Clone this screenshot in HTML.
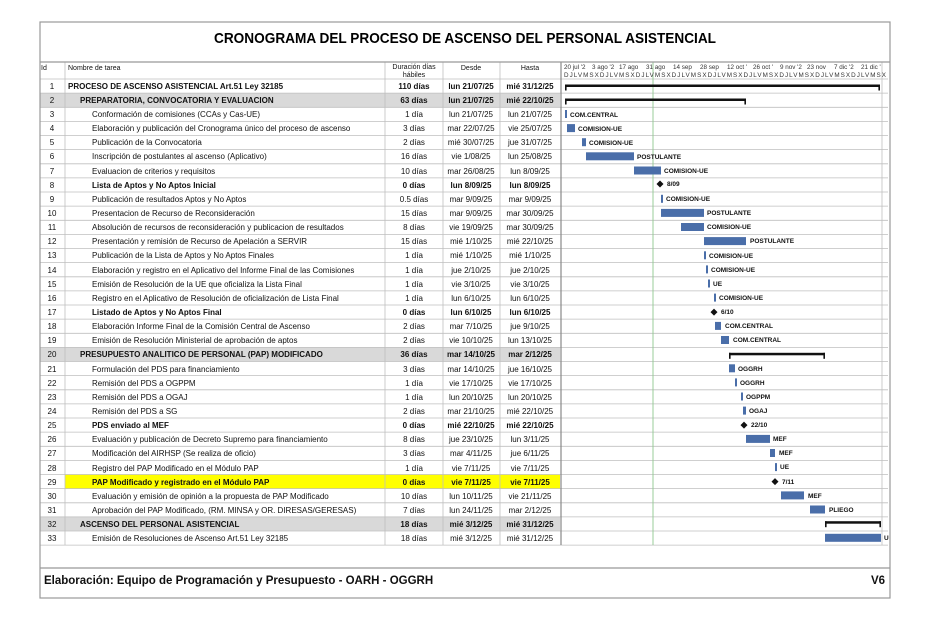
<!DOCTYPE html>
<html><head><meta charset="utf-8"><style>
html,body{margin:0;padding:0;background:#fff;}
svg{display:block;font-family:"Liberation Sans",sans-serif;}
.n{font-size:8px;fill:#111}
.b{font-weight:bold}
.c{text-anchor:middle}
.l{font-size:6.5px;font-weight:bold;fill:#111}
</style></head><body>
<svg width="930" height="620" viewBox="0 0 930 620">
<rect x="0" y="0" width="930" height="620" fill="#fff"/>
<!-- row backgrounds -->
<rect x="40" y="93.1" width="520" height="14.1" fill="#d9d9d9"/>
<rect x="40" y="347.4" width="520" height="14.1" fill="#d9d9d9"/>
<rect x="40" y="516.9" width="520" height="14.1" fill="#d9d9d9"/>
<rect x="65" y="474.5" width="495" height="14.1" fill="#ffff00"/>
<!-- horizontal row lines -->
<g stroke="#bfbfbf" stroke-width="0.8">
<line x1="40" x2="888" y1="79" y2="79"/>
<line x1="40" x2="888" y1="93.1" y2="93.1"/><line x1="40" x2="888" y1="107.3" y2="107.3"/>
<line x1="40" x2="888" y1="121.4" y2="121.4"/><line x1="40" x2="888" y1="135.5" y2="135.5"/>
<line x1="40" x2="888" y1="149.6" y2="149.6"/><line x1="40" x2="888" y1="163.8" y2="163.8"/>
<line x1="40" x2="888" y1="177.9" y2="177.9"/><line x1="40" x2="888" y1="192" y2="192"/>
<line x1="40" x2="888" y1="206.1" y2="206.1"/><line x1="40" x2="888" y1="220.3" y2="220.3"/>
<line x1="40" x2="888" y1="234.4" y2="234.4"/><line x1="40" x2="888" y1="248.5" y2="248.5"/>
<line x1="40" x2="888" y1="262.6" y2="262.6"/><line x1="40" x2="888" y1="276.8" y2="276.8"/>
<line x1="40" x2="888" y1="290.9" y2="290.9"/><line x1="40" x2="888" y1="305" y2="305"/>
<line x1="40" x2="888" y1="319.1" y2="319.1"/><line x1="40" x2="888" y1="333.3" y2="333.3"/>
<line x1="40" x2="888" y1="347.4" y2="347.4"/><line x1="40" x2="888" y1="361.5" y2="361.5"/>
<line x1="40" x2="888" y1="375.6" y2="375.6"/><line x1="40" x2="888" y1="389.8" y2="389.8"/>
<line x1="40" x2="888" y1="403.9" y2="403.9"/><line x1="40" x2="888" y1="418" y2="418"/>
<line x1="40" x2="888" y1="432.1" y2="432.1"/><line x1="40" x2="888" y1="446.3" y2="446.3"/>
<line x1="40" x2="888" y1="460.4" y2="460.4"/><line x1="40" x2="888" y1="474.5" y2="474.5"/>
<line x1="40" x2="888" y1="488.6" y2="488.6"/><line x1="40" x2="888" y1="502.8" y2="502.8"/>
<line x1="40" x2="888" y1="516.9" y2="516.9"/><line x1="40" x2="888" y1="531" y2="531"/>
<line x1="40" x2="888" y1="545.1" y2="545.1"/>
</g>
<!-- column lines -->
<g stroke="#bfbfbf" stroke-width="0.8">
<line x1="65" x2="65" y1="62" y2="545"/>
<line x1="385" x2="385" y1="62" y2="545"/>
<line x1="443" x2="443" y1="62" y2="545"/>
<line x1="500" x2="500" y1="62" y2="545"/>
<line x1="882" x2="882" y1="62" y2="545"/>
</g>
<line x1="561" x2="561" y1="62" y2="545" stroke="#888" stroke-width="1.2"/>
<line x1="653" x2="653" y1="62" y2="545" stroke="#8fc88f" stroke-width="0.9"/>
<!-- outer frame -->
<rect x="40" y="22" width="850" height="576" fill="none" stroke="#999" stroke-width="1.2"/>
<line x1="40" x2="890" y1="62" y2="62" stroke="#999" stroke-width="1.2"/>
<line x1="40" x2="890" y1="568" y2="568" stroke="#999" stroke-width="1.2"/>
<text x="465" y="43" class="b c" font-size="15" textLength="502" lengthAdjust="spacingAndGlyphs">CRONOGRAMA DEL PROCESO DE ASCENSO DEL PERSONAL ASISTENCIAL</text>
<!-- header -->
<g class="n" font-size="7">
<text x="41" y="70" font-size="7">Id</text>
<text x="68" y="70" font-size="7">Nombre de tarea</text>
<text x="414" y="69" class="c" font-size="7">Duración días</text>
<text x="414" y="77" class="c" font-size="7">hábiles</text>
<text x="471" y="70" class="c" font-size="7">Desde</text>
<text x="530" y="70" class="c" font-size="7">Hasta</text>
</g>
<g font-size="6.3" fill="#333">
<text x="564" y="69">20 jul '2</text><text x="592" y="69">3 ago '2</text><text x="619" y="69">17 ago</text><text x="646" y="69">31 ago</text><text x="673" y="69">14 sep</text><text x="700" y="69">28 sep</text><text x="727" y="69">12 oct '</text><text x="753" y="69">26 oct '</text><text x="780" y="69">9 nov '2</text><text x="807" y="69">23 nov</text><text x="834" y="69">7 dic '2</text><text x="861" y="69">21 dic '</text>
<text x="564" y="77" textLength="322" lengthAdjust="spacing">DJLVMSXDJLVMSXDJLVMSXDJLVMSXDJLVMSXDJLVMSXDJLVMSXDJLVMSXDJLVMSX</text>
</g>
<!-- ids -->
<g class="n c" font-size="6.5" fill="#444">
<text x="52" y="89">1</text><text x="52" y="103">2</text><text x="52" y="117">3</text><text x="52" y="131">4</text><text x="52" y="145">5</text><text x="52" y="159">6</text><text x="52" y="174">7</text><text x="52" y="188">8</text><text x="52" y="202">9</text><text x="52" y="216">10</text><text x="52" y="230">11</text><text x="52" y="244">12</text><text x="52" y="258">13</text><text x="52" y="273">14</text><text x="52" y="287">15</text><text x="52" y="301">16</text><text x="52" y="315">17</text><text x="52" y="329">18</text><text x="52" y="343">19</text><text x="52" y="357">20</text><text x="52" y="372">21</text><text x="52" y="386">22</text><text x="52" y="400">23</text><text x="52" y="414">24</text><text x="52" y="428">25</text><text x="52" y="442">26</text><text x="52" y="456">27</text><text x="52" y="471">28</text><text x="52" y="485">29</text><text x="52" y="499">30</text><text x="52" y="513">31</text><text x="52" y="527">32</text><text x="52" y="541">33</text>
</g>
<!-- names -->
<g class="n">
<text x="68" y="89" class="b">PROCESO DE ASCENSO ASISTENCIAL Art.51 Ley 32185</text>
<text x="80" y="103" class="b">PREPARATORIA, CONVOCATORIA Y EVALUACION</text>
<text x="92" y="117">Conformación de comisiones (CCAs y Cas-UE)</text>
<text x="92" y="131">Elaboración y publicación del Cronograma único del proceso de ascenso</text>
<text x="92" y="145">Publicación de la Convocatoria</text>
<text x="92" y="159">Inscripción de postulantes al ascenso (Aplicativo)</text>
<text x="92" y="174">Evaluacion de criterios y requisitos</text>
<text x="92" y="188" class="b">Lista de Aptos y No Aptos Inicial</text>
<text x="92" y="202">Publicación de resultados Aptos y No Aptos</text>
<text x="92" y="216">Presentacion de Recurso de Reconsideración</text>
<text x="92" y="230">Absolución de recursos de reconsideración y publicacion de resultados</text>
<text x="92" y="244">Presentación y remisión de Recurso de Apelación a SERVIR</text>
<text x="92" y="258">Publicación de la Lista de Aptos y No Aptos Finales</text>
<text x="92" y="273">Elaboración y registro en el Aplicativo del Informe Final de las Comisiones</text>
<text x="92" y="287">Emisión de Resolución de la UE que oficializa la Lista Final</text>
<text x="92" y="301">Registro en el Aplicativo de Resolución de oficialización de Lista Final</text>
<text x="92" y="315" class="b">Listado de Aptos y No Aptos Final</text>
<text x="92" y="329">Elaboración Informe Final de la Comisión Central de Ascenso</text>
<text x="92" y="343">Emisión de Resolución Ministerial de aprobación de aptos</text>
<text x="80" y="357" class="b">PRESUPUESTO ANALITICO DE PERSONAL (PAP) MODIFICADO</text>
<text x="92" y="372">Formulación del PDS para financiamiento</text>
<text x="92" y="386">Remisión del PDS a OGPPM</text>
<text x="92" y="400">Remisión del PDS a OGAJ</text>
<text x="92" y="414">Remisión del PDS a SG</text>
<text x="92" y="428" class="b">PDS enviado al MEF</text>
<text x="92" y="442">Evaluación y publicación de Decreto Supremo para financiamiento</text>
<text x="92" y="456">Modificación del AIRHSP (Se realiza de oficio)</text>
<text x="92" y="471">Registro del PAP Modificado en el Módulo PAP</text>
<text x="92" y="485" class="b">PAP Modificado y registrado en el Módulo PAP</text>
<text x="92" y="499">Evaluación y emisión de opinión a la propuesta de PAP Modificado</text>
<text x="92" y="513">Aprobación del PAP Modificado, (RM. MINSA y OR. DIRESAS/GERESAS)</text>
<text x="80" y="527" class="b">ASCENSO DEL PERSONAL ASISTENCIAL</text>
<text x="92" y="541">Emisión de Resoluciones de Ascenso Art.51 Ley 32185</text>
</g>
<!-- duration/desde/hasta -->
<g class="n c">
<text x="414" y="89" class="b">110 días</text><text x="471" y="89" class="b">lun 21/07/25</text><text x="530" y="89" class="b">mié 31/12/25</text>
<text x="414" y="103" class="b">63 días</text><text x="471" y="103" class="b">lun 21/07/25</text><text x="530" y="103" class="b">mié 22/10/25</text>
<text x="414" y="117">1 día</text><text x="471" y="117">lun 21/07/25</text><text x="530" y="117">lun 21/07/25</text>
<text x="414" y="131">3 días</text><text x="471" y="131">mar 22/07/25</text><text x="530" y="131">vie 25/07/25</text>
<text x="414" y="145">2 días</text><text x="471" y="145">mié 30/07/25</text><text x="530" y="145">jue 31/07/25</text>
<text x="414" y="159">16 días</text><text x="471" y="159">vie 1/08/25</text><text x="530" y="159">lun 25/08/25</text>
<text x="414" y="174">10 días</text><text x="471" y="174">mar 26/08/25</text><text x="530" y="174">lun 8/09/25</text>
<text x="414" y="188" class="b">0 días</text><text x="471" y="188" class="b">lun 8/09/25</text><text x="530" y="188" class="b">lun 8/09/25</text>
<text x="414" y="202">0.5 días</text><text x="471" y="202">mar 9/09/25</text><text x="530" y="202">mar 9/09/25</text>
<text x="414" y="216">15 días</text><text x="471" y="216">mar 9/09/25</text><text x="530" y="216">mar 30/09/25</text>
<text x="414" y="230">8 días</text><text x="471" y="230">vie 19/09/25</text><text x="530" y="230">mar 30/09/25</text>
<text x="414" y="244">15 días</text><text x="471" y="244">mié 1/10/25</text><text x="530" y="244">mié 22/10/25</text>
<text x="414" y="258">1 día</text><text x="471" y="258">mié 1/10/25</text><text x="530" y="258">mié 1/10/25</text>
<text x="414" y="273">1 día</text><text x="471" y="273">jue 2/10/25</text><text x="530" y="273">jue 2/10/25</text>
<text x="414" y="287">1 día</text><text x="471" y="287">vie 3/10/25</text><text x="530" y="287">vie 3/10/25</text>
<text x="414" y="301">1 día</text><text x="471" y="301">lun 6/10/25</text><text x="530" y="301">lun 6/10/25</text>
<text x="414" y="315" class="b">0 días</text><text x="471" y="315" class="b">lun 6/10/25</text><text x="530" y="315" class="b">lun 6/10/25</text>
<text x="414" y="329">2 días</text><text x="471" y="329">mar 7/10/25</text><text x="530" y="329">jue 9/10/25</text>
<text x="414" y="343">2 días</text><text x="471" y="343">vie 10/10/25</text><text x="530" y="343">lun 13/10/25</text>
<text x="414" y="357" class="b">36 días</text><text x="471" y="357" class="b">mar 14/10/25</text><text x="530" y="357" class="b">mar 2/12/25</text>
<text x="414" y="372">3 días</text><text x="471" y="372">mar 14/10/25</text><text x="530" y="372">jue 16/10/25</text>
<text x="414" y="386">1 día</text><text x="471" y="386">vie 17/10/25</text><text x="530" y="386">vie 17/10/25</text>
<text x="414" y="400">1 día</text><text x="471" y="400">lun 20/10/25</text><text x="530" y="400">lun 20/10/25</text>
<text x="414" y="414">2 días</text><text x="471" y="414">mar 21/10/25</text><text x="530" y="414">mié 22/10/25</text>
<text x="414" y="428" class="b">0 días</text><text x="471" y="428" class="b">mié 22/10/25</text><text x="530" y="428" class="b">mié 22/10/25</text>
<text x="414" y="442">8 días</text><text x="471" y="442">jue 23/10/25</text><text x="530" y="442">lun 3/11/25</text>
<text x="414" y="456">3 días</text><text x="471" y="456">mar 4/11/25</text><text x="530" y="456">jue 6/11/25</text>
<text x="414" y="471">1 día</text><text x="471" y="471">vie 7/11/25</text><text x="530" y="471">vie 7/11/25</text>
<text x="414" y="485" class="b">0 días</text><text x="471" y="485" class="b">vie 7/11/25</text><text x="530" y="485" class="b">vie 7/11/25</text>
<text x="414" y="499">10 días</text><text x="471" y="499">lun 10/11/25</text><text x="530" y="499">vie 21/11/25</text>
<text x="414" y="513">7 días</text><text x="471" y="513">lun 24/11/25</text><text x="530" y="513">mar 2/12/25</text>
<text x="414" y="527" class="b">18 días</text><text x="471" y="527" class="b">mié 3/12/25</text><text x="530" y="527" class="b">mié 31/12/25</text>
<text x="414" y="541">18 días</text><text x="471" y="541">mié 3/12/25</text><text x="530" y="541">mié 31/12/25</text>
</g>
<!-- summary bars -->
<g fill="#111">
<rect x="565" y="84.5" width="315" height="2.5"/><rect x="565" y="84.5" width="1.6" height="6"/><rect x="878.4" y="84.5" width="1.6" height="6"/>
<rect x="565" y="98.5" width="181" height="2.5"/><rect x="565" y="98.5" width="1.6" height="6"/><rect x="744.4" y="98.5" width="1.6" height="6"/>
<rect x="729" y="352.8" width="96" height="2.5"/><rect x="729" y="352.8" width="1.6" height="6"/><rect x="823.4" y="352.8" width="1.6" height="6"/>
<rect x="825" y="521.2" width="56" height="2.5"/><rect x="825" y="521.2" width="1.6" height="6"/><rect x="879.4" y="521.2" width="1.6" height="6"/>
</g>
<!-- task bars -->
<g fill="#4a6ea9">
<rect x="565" y="110" width="2" height="8"/>
<rect x="567" y="124.1" width="8" height="8"/>
<rect x="582" y="138.2" width="4" height="8"/>
<rect x="586" y="152.3" width="48" height="8"/>
<rect x="634" y="166.5" width="27" height="8"/>
<rect x="661" y="194.8" width="2" height="8"/>
<rect x="661" y="208.9" width="43" height="8"/>
<rect x="681" y="223" width="23" height="8"/>
<rect x="704" y="237.1" width="42" height="8"/>
<rect x="704" y="251.3" width="2" height="8"/>
<rect x="706" y="265.4" width="2" height="8"/>
<rect x="708" y="279.5" width="2" height="8"/>
<rect x="714" y="293.6" width="2" height="8"/>
<rect x="715" y="321.9" width="6" height="8"/>
<rect x="721" y="336" width="8" height="8"/>
<rect x="729" y="364.3" width="6" height="8"/>
<rect x="735" y="378.4" width="2" height="8"/>
<rect x="741" y="392.5" width="2" height="8"/>
<rect x="743" y="406.6" width="3" height="8"/>
<rect x="746" y="434.9" width="24" height="8"/>
<rect x="770" y="449" width="5" height="8"/>
<rect x="775" y="463.1" width="2" height="8"/>
<rect x="781" y="491.4" width="23" height="8"/>
<rect x="810" y="505.5" width="15" height="8"/>
<rect x="825" y="533.8" width="56" height="8"/>
</g>
<!-- milestones -->
<g fill="#111">
<path d="M660 180.5 l3.5 3.5 -3.5 3.5 -3.5 -3.5z"/>
<path d="M714 308.6 l3.5 3.5 -3.5 3.5 -3.5 -3.5z"/>
<path d="M744 421.6 l3.5 3.5 -3.5 3.5 -3.5 -3.5z"/>
<path d="M775 478.1 l3.5 3.5 -3.5 3.5 -3.5 -3.5z"/>
</g>
<!-- bar labels -->
<g class="l">
<text x="570" y="117">COM.CENTRAL</text>
<text x="578" y="131">COMISION-UE</text>
<text x="589" y="145">COMISION-UE</text>
<text x="637" y="159">POSTULANTE</text>
<text x="664" y="173">COMISION-UE</text>
<text x="667" y="186">8/09</text>
<text x="666" y="201">COMISION-UE</text>
<text x="707" y="215">POSTULANTE</text>
<text x="707" y="229">COMISION-UE</text>
<text x="750" y="243">POSTULANTE</text>
<text x="709" y="258">COMISION-UE</text>
<text x="711" y="272">COMISION-UE</text>
<text x="713" y="286">UE</text>
<text x="719" y="300">COMISION-UE</text>
<text x="721" y="314">6/10</text>
<text x="725" y="328">COM.CENTRAL</text>
<text x="733" y="342">COM.CENTRAL</text>
<text x="738" y="371">OGGRH</text>
<text x="740" y="385">OGGRH</text>
<text x="746" y="399">OGPPM</text>
<text x="749" y="413">OGAJ</text>
<text x="751" y="427">22/10</text>
<text x="773" y="441">MEF</text>
<text x="779" y="455">MEF</text>
<text x="780" y="469">UE</text>
<text x="782" y="484">7/11</text>
<text x="808" y="498">MEF</text>
<text x="829" y="512">PLIEGO</text>
<text x="884" y="540">U</text>
</g>
<!-- footer -->
<text x="44" y="584" class="b" font-size="11.5" fill="#111">Elaboración: Equipo de Programación y Presupuesto - OARH - OGGRH</text>
<text x="871" y="584" class="b" font-size="11.5" fill="#111">V6</text>
</svg>
</body></html>
